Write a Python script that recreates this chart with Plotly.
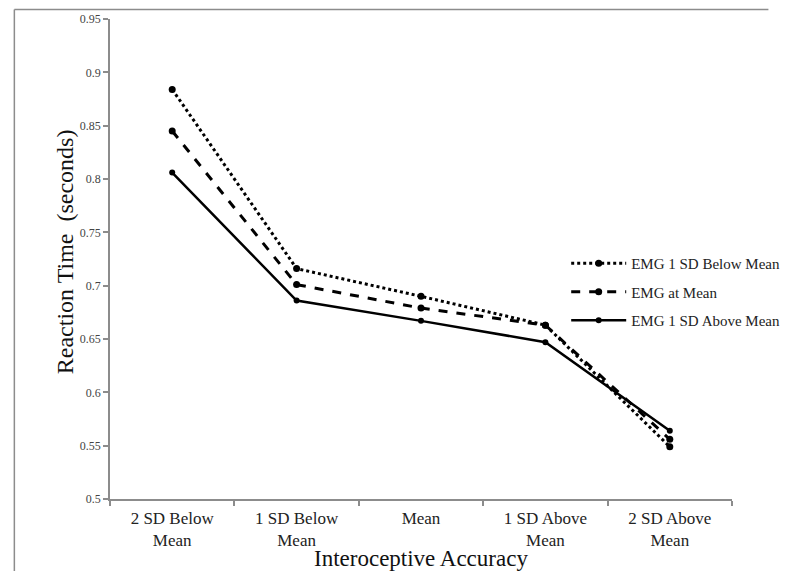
import plotly.graph_objects as go

categories = ["2 SD Below<br>Mean", "1 SD Below<br>Mean", "Mean", "1 SD Above<br>Mean", "2 SD Above<br>Mean"]
emg_below = [0.884, 0.716, 0.690, 0.663, 0.549]
emg_mean = [0.845, 0.701, 0.679, 0.663, 0.556]
emg_above = [0.806, 0.686, 0.667, 0.647, 0.564]
series_names = ["EMG 1 SD Below Mean", "EMG at Mean", "EMG 1 SD Above Mean"]

W, H = 797, 571
KX = 813 / 797  # horizontal correction observed in the photographed page
PL, PR, PT, PB = 108 * KX, 744 * KX, 19, 499
L, T, R, B = round(PL), PT, round(W - PR), H - PB
pw, ph = W - L - R, PB - PT

def px_x(x):
    return (x * KX - L) / pw

def px_y(y):
    return (PB - y) / ph

fig = go.Figure()
styles = [
    (emg_below, "dot", 3, 7),
    (emg_mean, "dash", 3, 7),
    (emg_above, "solid", 2.5, 6),
]
for i, (vals, dash, w, ms) in enumerate(styles):
    fig.add_trace(go.Scatter(
        x=categories, y=vals, name=series_names[i], mode="lines+markers",
        line=dict(color="black", width=w, dash=dash),
        marker=dict(color="black", size=ms, symbol="circle"),
        legendgroup=f"g{i}",
    ))

serif = "Liberation Serif, Times New Roman, serif"
fig.update_layout(
    width=W, height=H, autosize=False,
    margin=dict(l=L, r=R, t=T, b=B),
    paper_bgcolor="white", plot_bgcolor="white",
    font=dict(family=serif, color="#222"),
    showlegend=True,
    legend=dict(x=(586 - L) / pw, y=px_y(247), xanchor="left", yanchor="top",
                font=dict(family=serif, size=15, color="#222"),
                itemwidth=55, tracegroupgap=6, bgcolor="rgba(0,0,0,0)"),
    xaxis=dict(
        showline=True, linecolor="#8c8c8c", linewidth=1.5,
        ticks="outside", tickson="boundaries", ticklen=5, tickcolor="#8c8c8c", tickwidth=1.5,
        tickfont=dict(family=serif, size=17, color="#222"), ticklabelstandoff=3,
        showgrid=False, zeroline=False, range=[-0.5, 4.5],
    ),
    yaxis=dict(
        showline=True, linecolor="#8c8c8c", linewidth=1.5,
        ticks="outside", ticklen=5, tickcolor="#8c8c8c", tickwidth=1.5,
        tickfont=dict(family=serif, size=12, color="#444"),
        range=[0.5, 0.95], tick0=0.5, dtick=0.05,
        showgrid=False, zeroline=False,
    ),
    annotations=[
        dict(text="Interoceptive Accuracy", xref="paper", yref="paper",
             x=px_x(426), y=px_y(558), xanchor="center", yanchor="middle",
             showarrow=False, font=dict(family=serif, size=23, color="#111")),
        dict(text="Reaction Time\u00a0\u00a0(seconds)", xref="paper", yref="paper",
             x=px_x(62), y=px_y(252), xanchor="center", yanchor="middle",
             showarrow=False, textangle=-90,
             font=dict(family=serif, size=24, color="#111")),
    ],
    shapes=[
        dict(type="line", xref="paper", yref="paper",
             x0=px_x(10), y0=px_y(9.5), x1=(W - L) / pw, y1=px_y(9.5),
             line=dict(color="#8c8c8c", width=1.5), layer="below"),
        dict(type="line", xref="paper", yref="paper",
             x0=px_x(10), y0=px_y(9.5), x1=px_x(10), y1=px_y(571),
             line=dict(color="#8c8c8c", width=1.5), layer="below"),
    ],
)

fig.write_html(
    "out.html",
    config={"displayModeBar": False},
    post_script="document.body.style.margin='0px';document.documentElement.style.overflow='hidden';",
)
